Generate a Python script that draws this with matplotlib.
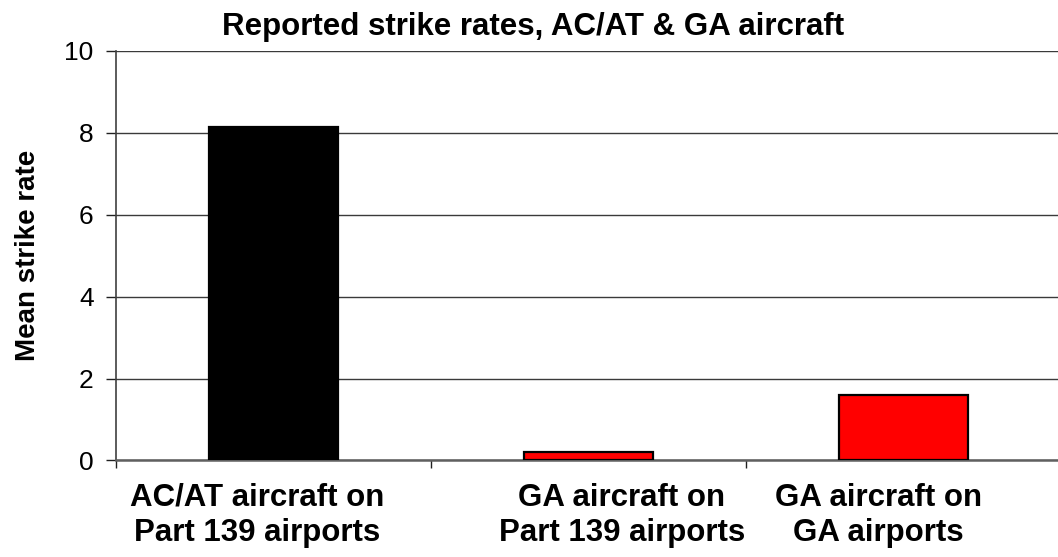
import matplotlib
matplotlib.use("Agg")
import matplotlib.pyplot as plt
from matplotlib.transforms import ScaledTranslation

# Data
categories = ["AC/AT aircraft on\nPart 139 airports",
              "GA aircraft on\nPart 139 airports",
              "GA aircraft on\nGA airports"]
strike_rates = [8.15, 0.2, 1.6]
bar_colors = ["#000000", "#FF0000", "#FF0000"]
y_ticks = [0, 2, 4, 6, 8, 10]

plt.rcParams["font.family"] = ["Liberation Sans", "DejaVu Sans"]

fig = plt.figure(figsize=(10.58, 5.57), dpi=100)
ax = fig.add_axes([0.1096, 0.1733, 0.893, 0.7352])

x = list(range(len(categories)))
ax.bar(x, strike_rates, width=0.41, color=bar_colors,
       edgecolor="#000000", linewidth=1.6, zorder=3)

ax.set_xlim(-0.5, 2.5)
ax.set_ylim(0, 10)
ax.set_yticks(y_ticks)
ax.set_yticklabels([str(v) for v in y_ticks])
ax.grid(axis="y", color="#3a3a3a", linewidth=1.0, zorder=0)
ax.set_axisbelow(True)

for side in ("top", "right"):
    ax.spines[side].set_visible(False)
ax.spines["left"].set_color("#404040")
ax.spines["left"].set_linewidth(1.2)
ax.spines["bottom"].set_color("#606060")
ax.spines["bottom"].set_linewidth(1.8)

ax.tick_params(axis="y", direction="out", length=7, width=1.0,
               color="#202020", labelsize=19, pad=9)

# Category labels on major ticks, tick marks at category boundaries
ax.set_xticks(x)
ax.set_xticklabels(categories, fontsize=22.5, fontweight="bold",
                   linespacing=1.22)
ax.tick_params(axis="x", which="major", length=0, pad=16)
ax.set_xticks([-0.5, 0.5, 1.5, 2.5], minor=True)
ax.tick_params(axis="x", which="minor", direction="out", length=6,
               width=1.0, color="#202020")

label_shift_pt = [-11.5, 24, -18]
for lbl, dx in zip(ax.get_xticklabels(), label_shift_pt):
    lbl.set_transform(lbl.get_transform() +
                      ScaledTranslation(dx / 72, 0, fig.dpi_scale_trans))

ax.set_ylabel("Mean strike rate", fontsize=20, fontweight="bold",
              labelpad=17)
fig.text(0.504, 0.978, "Reported strike rates, AC/AT & GA aircraft",
         ha="center", va="top", fontsize=22.5, fontweight="bold")

fig.savefig("out.png", dpi=100)
